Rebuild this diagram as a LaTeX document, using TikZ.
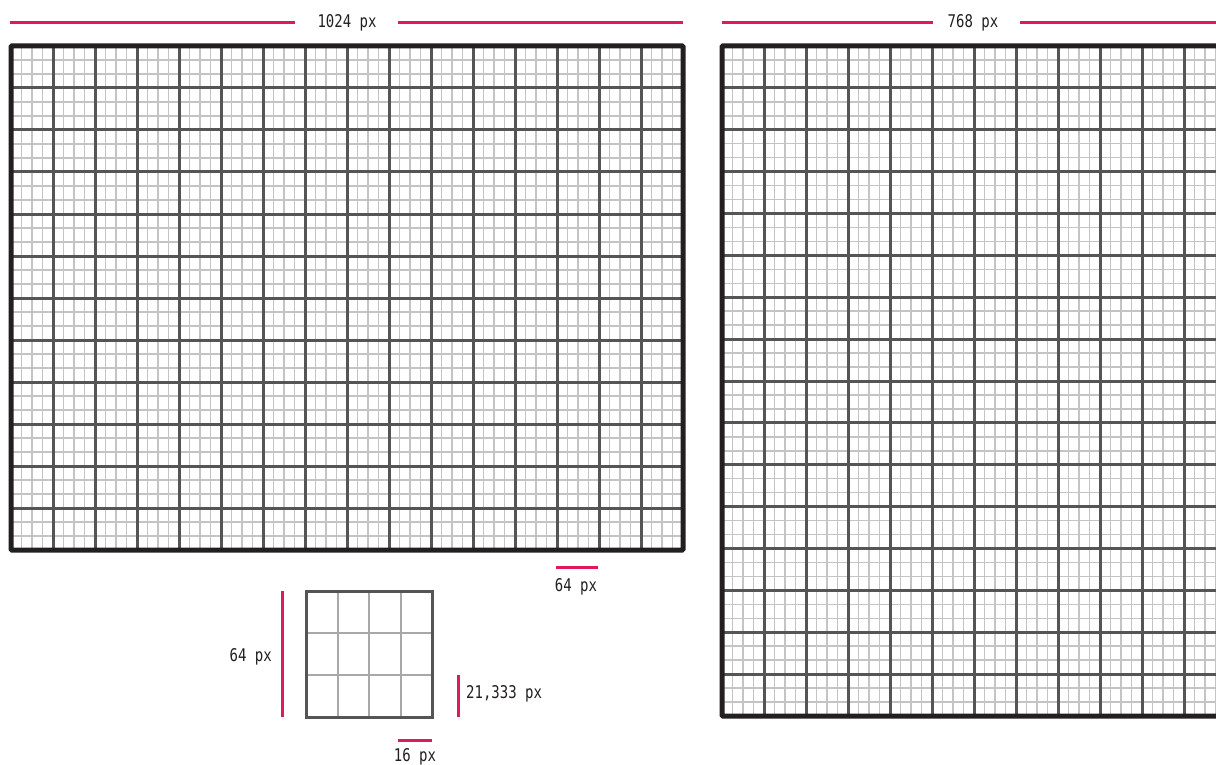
\documentclass[tikz,border=0pt]{standalone}
\usepackage{fontspec}
\newfontfamily\labelfont[FakeStretch=0.8]{DejaVu Sans Mono}
\definecolor{bordercol}{HTML}{231F20}
\definecolor{majorcol}{HTML}{555555}
\definecolor{minorcol}{HTML}{C4C4C4}
\definecolor{detailminor}{HTML}{A8A8A8}
\definecolor{dimred}{HTML}{E0195C}
\tikzset{
  minorline/.style={draw=minorcol, line width=1.5pt},
  majorline/.style={draw=majorcol, line width=3pt},
  borderline/.style={draw=bordercol, line width=5pt, rounded corners=1pt},
  dimline/.style={draw=dimred, line width=3pt},
  dimlabel/.style={font=\labelfont\fontsize{17.5}{19}\selectfont, text=bordercol, inner sep=0pt},
}
\begin{document}
\begin{tikzpicture}[x=1pt,y=-1pt]
\useasboundingbox (0,0) rectangle (1216,765);
\begin{scope}
\clip (0,0) rectangle (1216,765);
% ---------- left grid (1024 x 768) ----------
\foreach \k in {1,...,63} \draw[minorline] (11+10.5*\k,46) -- (11+10.5*\k,550);
\foreach \k in {1,...,35} \draw[minorline] (11,46+14*\k) -- (683,46+14*\k);
\foreach \i in {1,...,15} \draw[majorline] (11+42*\i,46) -- (11+42*\i,550);
\foreach \j in {1,...,11} \draw[majorline] (11,46+42*\j) -- (683,46+42*\j);
\draw[borderline] (11,46) rectangle (683,550);
% ---------- right grid (768 x 1024) ----------
\foreach \k in {1,...,47} \draw[minorline] (722+10.5*\k,46) -- (722+10.5*\k,716);
\foreach \k in {1,...,47} \draw[minorline] (722,46+13.9583*\k) -- (1226,46+13.9583*\k);
\foreach \i in {1,...,11} \draw[majorline] (722+42*\i,46) -- (722+42*\i,716);
\foreach \j in {1,...,15} \draw[majorline] (722,46+41.875*\j) -- (1226,46+41.875*\j);
\draw[borderline] (722,46) rectangle (1226,716);
\end{scope}
% ---------- detail cell ----------
\foreach \k in {1,2,3} \draw[draw=detailminor, line width=2pt] (306+31.5*\k,591) -- (306+31.5*\k,717);
\foreach \k in {1,2} \draw[draw=detailminor, line width=2pt] (306,591+42*\k) -- (432,591+42*\k);
\draw[draw=majorcol, line width=3pt] (306,591) rectangle (432,717);
% ---------- dimension labels ----------
\node[dimlabel] (w1) at (347,23) {1024 px};
\coordinate (w1a) at (10,23); \coordinate (w1b) at (295,23);
\coordinate (w1c) at (398,23); \coordinate (w1d) at (683,23);
\draw[dimline] (w1a) -- (w1b);
\draw[dimline] (w1c) -- (w1d);

\node[dimlabel] (w2) at (973,23) {768 px};
\coordinate (w2a) at (722,23); \coordinate (w2b) at (933,23);
\coordinate (w2c) at (1020,23); \coordinate (w2d) at (1216,23);
\draw[dimline] (w2a) -- (w2b);
\draw[dimline] (w2c) -- (w2d);

\node[dimlabel] (m64) at (576,587) {64 px};
\coordinate (m64a) at (556,567); \coordinate (m64b) at (598,567);
\draw[dimline] (m64a) -- (m64b);

\node[dimlabel, anchor=east] (c64) at (272,657) {64 px};
\coordinate (c64a) at (282,591); \coordinate (c64b) at (282,717);
\draw[dimline] (c64a) -- (c64b);

\node[dimlabel, anchor=west] (c21) at (466,694) {21,333 px};
\coordinate (c21a) at (458,675); \coordinate (c21b) at (458,717);
\draw[dimline] (c21a) -- (c21b);

\node[dimlabel] (c16) at (415,757) {16 px};
\coordinate (c16a) at (398,740); \coordinate (c16b) at (432,740);
\draw[dimline] (c16a) -- (c16b);
\end{tikzpicture}
\end{document}
